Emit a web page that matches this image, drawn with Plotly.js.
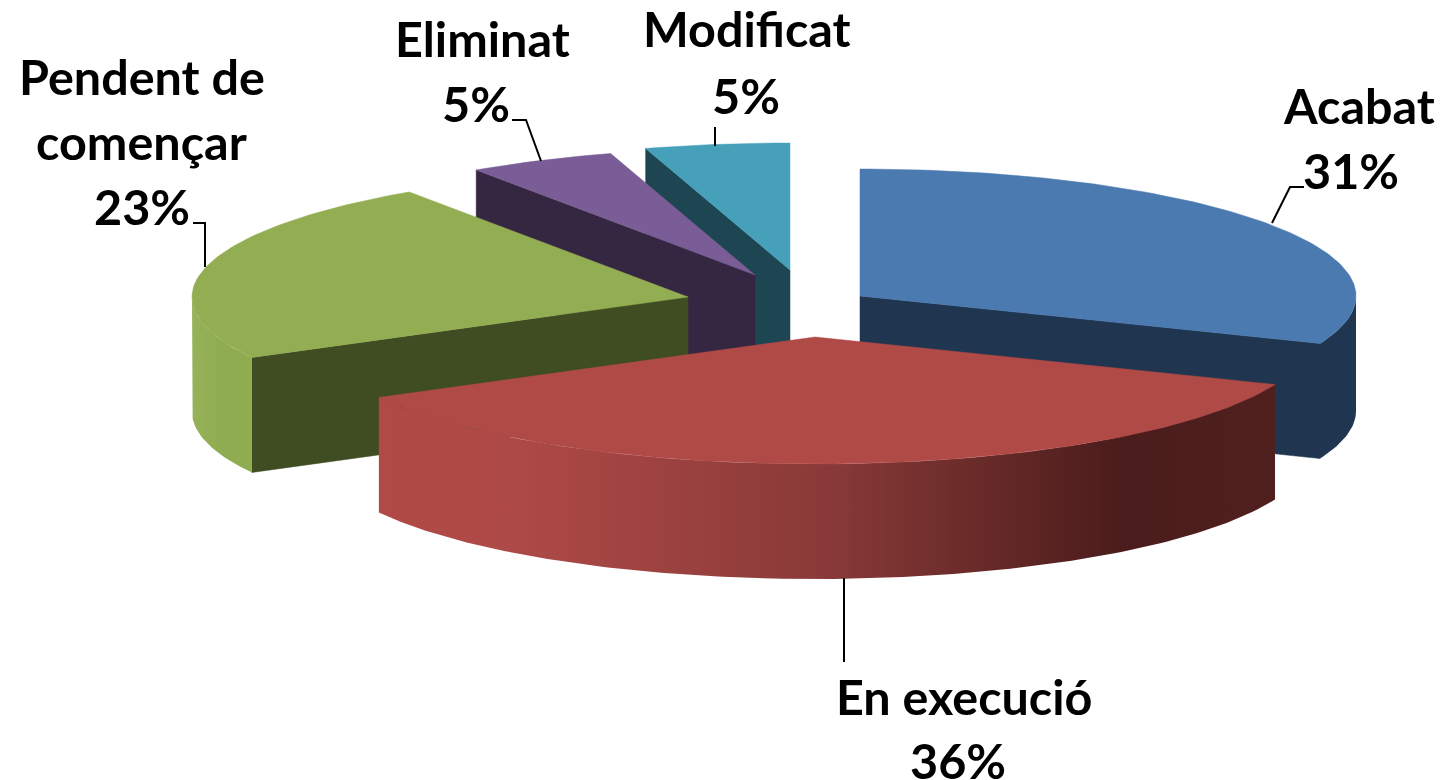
<!DOCTYPE html>
<html>
<head>
<meta charset="utf-8">
<script src="https://cdn.plot.ly/plotly-3.0.1.min.js"></script>
<style>html,body{margin:0;padding:0;background:#fff}#chart{width:1441px;height:780px}</style>
</head>
<body>
<div id="chart"></div>
<script>
// Data
var categories = ["Acabat", "En execució", "Pendent de començar", "Eliminat", "Modificat"];
var shares = [31.1, 36.0, 23.4, 4.8, 4.7];

// Styles
var topColors = ["#4a7ab0", "#b04a47", "#93ae52", "#7a5d96", "#47a0ba"];
var wallColors = ["#1f3550", "#4a1d1b", "#404c22", "#352741", "#1d4552"];
var rimScales = [
  [[0, "#1f3550"], [1, "#1f3550"]],
  [[0, "#b04a47"], [0.16, "#ad4946"], [0.5, "#893a38"], [0.83, "#4a1c1b"], [1, "#4f201e"]],
  [[0, "#96b25a"], [0.5, "#90ac51"], [1, "#90ac51"]],
  [[0, "#352741"], [1, "#352741"]],
  [[0, "#1d4552"], [1, "#1d4552"]]
];

// Layout geometry (paper is mapped 1:1 to the axes below)
var rx = 496, ry = 127, depth = 115;
var apexX = [860, 815, 688, 755, 790];
var apexY = [296, 337, 297, 275, 270];
var drawOrder = [4, 3, 0, 2, 1];

var labelLines = [
  ["Acabat"], ["En execució"], ["Pendent de", "començar"], ["Eliminat"], ["Modificat"]
];
var labelX = [[1359, 1351], [964, 958], [142, 141, 142], [482, 476], [747, 746]];
var labelY = [[105, 170], [696, 760], [76, 141, 206], [38, 103], [28, 95]];
var leaderX = [[1272, 1290, 1304], [844, 844], [205, 205, 193], [541, 526, 512], [715, 715]];
var leaderY = [[223, 187, 187], [578, 662], [267, 223, 223], [161, 120, 120], [146, 127]];

var FONT = "Lato, Carlito, 'Liberation Sans', sans-serif";
var FONT_SIZE = 48.5;

function rimPoint(i, deg, dy) {
  var t = deg * Math.PI / 180;
  return [apexX[i] + rx * Math.sin(t), apexY[i] - ry * Math.cos(t) + (dy || 0)];
}
function arc(i, from, to, dy) {
  var pts = [], n = Math.max(2, Math.ceil(Math.abs(to - from)));
  for (var k = 0; k <= n; k++) pts.push(rimPoint(i, from + (to - from) * k / n, dy));
  return pts;
}
function poly(pts, color, scale) {
  var tr = {
    type: "scatter", mode: "lines", hoverinfo: "skip", showlegend: false,
    x: pts.map(function (p) { return p[0]; }),
    y: pts.map(function (p) { return p[1]; }),
    line: { width: 0.5, color: color },
    fill: "toself", fillcolor: color
  };
  if (scale) {
    tr.fillgradient = { type: "horizontal", colorscale: scale };
    tr.line = { width: 0 };
  }
  return tr;
}

// Slice angles, clockwise from 12 o'clock
var total = shares.reduce(function (a, b) { return a + b; }, 0);
var startAngle = [], endAngle = [], acc = 0;
shares.forEach(function (v, i) {
  startAngle[i] = acc / total * 360;
  acc += v;
  endAngle[i] = acc / total * 360;
});

var traces = [];
drawOrder.forEach(function (i) {
  var s = startAngle[i], e = endAngle[i];
  var apex = [apexX[i], apexY[i]], apexLow = [apexX[i], apexY[i] + depth];
  // Cut faces that turn towards the viewer
  [[s, -1], [e, 1]].forEach(function (edge) {
    var side = Math.sin(edge[0] * Math.PI / 180) * edge[1];
    if (side > 0.001) {
      traces.push(poly([apex, rimPoint(i, edge[0]), rimPoint(i, edge[0], depth), apexLow, apex], wallColors[i]));
    }
  });
  // Outer rim in the front half
  var a = Math.max(s, 90), b = Math.min(e, 270);
  if (b > a) {
    var pts = arc(i, a, b, 0).concat(arc(i, b, a, depth));
    pts.push(pts[0]);
    traces.push(poly(pts, wallColors[i], rimScales[i]));
  }
  // Top face
  var top = [apex].concat(arc(i, s, e, 0));
  top.push(apex);
  traces.push(poly(top, topColors[i]));
});

// Leader lines
categories.forEach(function (c, i) {
  traces.push({
    type: "scatter", mode: "lines", hoverinfo: "skip", showlegend: false,
    x: leaderX[i], y: leaderY[i], line: { color: "#000", width: 2 }
  });
});

// Labels
var annotations = [];
categories.forEach(function (c, i) {
  var lines = labelLines[i].concat([Math.round(shares[i]) + "%"]);
  lines.forEach(function (t, k) {
    annotations.push({
      x: labelX[i][k], y: labelY[i][k], xref: "x", yref: "y",
      text: "<b>" + t + "</b>", showarrow: false,
      xanchor: "center", yanchor: "middle",
      font: { family: FONT, size: FONT_SIZE, color: "#000" }
    });
  });
});

var layout = {
  width: 1441, height: 780,
  margin: { l: 0, r: 0, t: 0, b: 0 },
  paper_bgcolor: "#fff", plot_bgcolor: "#fff",
  xaxis: { range: [0, 1441], visible: false, fixedrange: true },
  yaxis: { range: [780, 0], visible: false, fixedrange: true },
  showlegend: false,
  hovermode: false,
  annotations: annotations
};
Plotly.newPlot("chart", traces, layout, { displayModeBar: false, staticPlot: true });
</script>
</body>
</html>
